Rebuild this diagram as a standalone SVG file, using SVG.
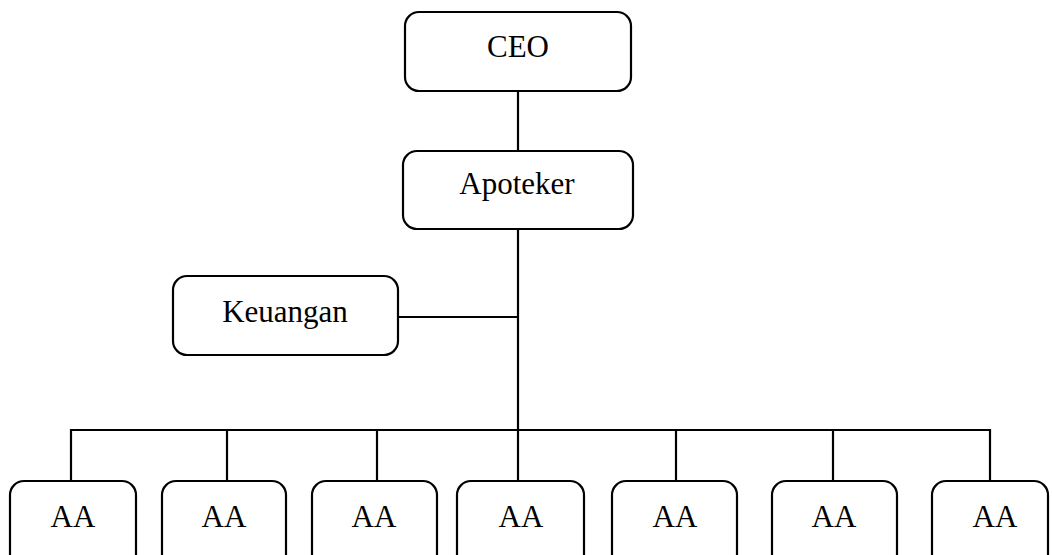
<svg xmlns="http://www.w3.org/2000/svg" width="1052" height="555" viewBox="0 0 1052 555">
<style>
.box{fill:#fff;stroke:#000;stroke-width:2.2}
.lbl{font-family:"Liberation Serif","Times New Roman",serif;font-size:31px;fill:#000;text-anchor:middle}
.ln{stroke:#000;stroke-width:2.2;fill:none}
</style>
<rect width="1052" height="555" fill="#fff"/>
<g id="connectors">
<line class="ln" x1="518" y1="91" x2="518" y2="151"/>
<line class="ln" x1="518" y1="229" x2="518" y2="430"/>
<line class="ln" x1="398" y1="317" x2="518" y2="317"/>
<polyline class="ln" points="71,481 71,430 990,430 990,481"/>
<line class="ln" x1="227" y1="430" x2="227" y2="481"/>
<line class="ln" x1="377" y1="430" x2="377" y2="481"/>
<line class="ln" x1="518" y1="430" x2="518" y2="481"/>
<line class="ln" x1="676" y1="430" x2="676" y2="481"/>
<line class="ln" x1="833" y1="430" x2="833" y2="481"/>
</g>
<g id="ceo"><rect class="box" x="405" y="12" width="226" height="79" rx="14"/><text class="lbl" x="518" y="57">CEO</text></g>
<g id="apoteker"><rect class="box" x="403" y="151" width="230" height="78" rx="14"/><text class="lbl" x="517" y="194">Apoteker</text></g>
<g id="keuangan"><rect class="box" x="173" y="276" width="225" height="79" rx="14"/><text class="lbl" x="285" y="322">Keuangan</text></g>
<g id="aa1"><rect class="box" x="10" y="481" width="126" height="100" rx="14"/><text class="lbl" x="73" y="527">AA</text></g>
<g id="aa2"><rect class="box" x="162" y="481" width="124" height="100" rx="14"/><text class="lbl" x="224" y="527">AA</text></g>
<g id="aa3"><rect class="box" x="312" y="481" width="125" height="100" rx="14"/><text class="lbl" x="374" y="527">AA</text></g>
<g id="aa4"><rect class="box" x="457" y="481" width="127" height="100" rx="14"/><text class="lbl" x="521" y="527">AA</text></g>
<g id="aa5"><rect class="box" x="612" y="481" width="125" height="100" rx="14"/><text class="lbl" x="675" y="527">AA</text></g>
<g id="aa6"><rect class="box" x="772" y="481" width="125" height="100" rx="14"/><text class="lbl" x="834" y="527">AA</text></g>
<g id="aa7"><rect class="box" x="932" y="481" width="116" height="100" rx="14"/><text class="lbl" x="995" y="527">AA</text></g>
</svg>
